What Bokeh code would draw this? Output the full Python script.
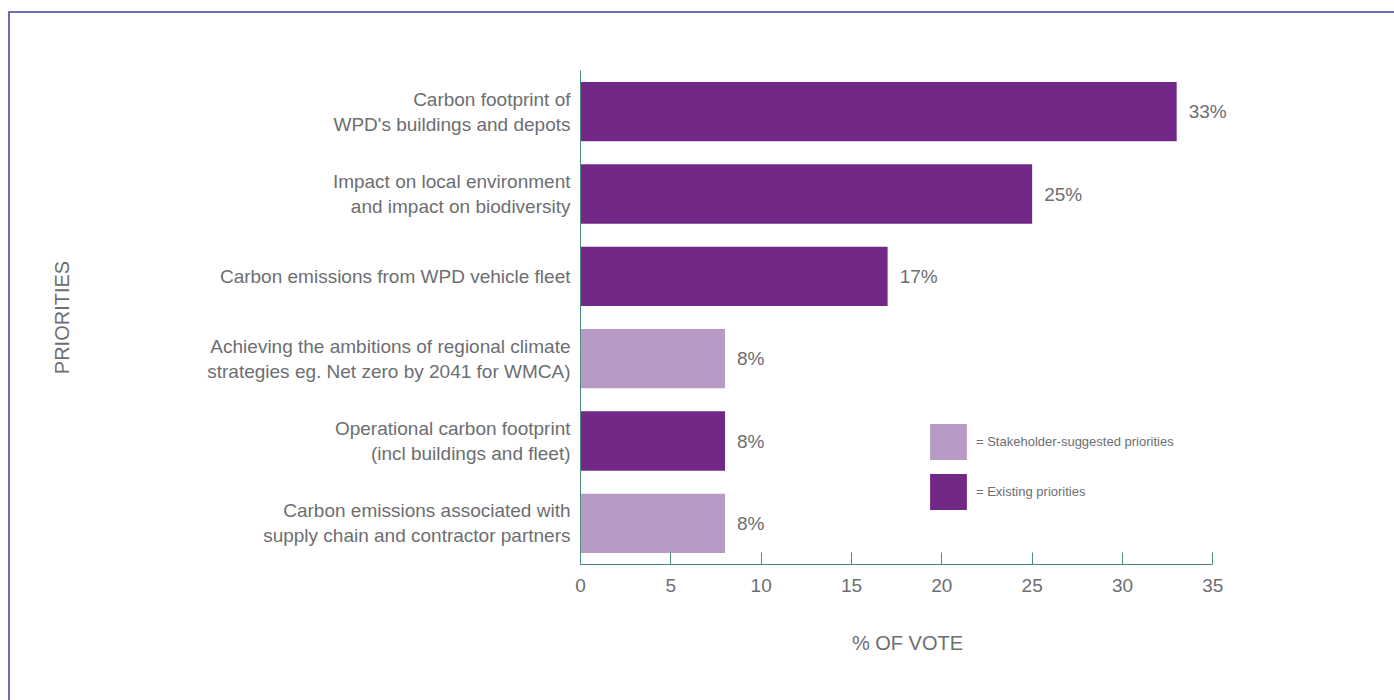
from bokeh.plotting import figure
from bokeh.models import ColumnDataSource, FactorRange, Range1d, LabelSet, Legend, LegendItem, FixedTicker
from bokeh.core.properties import value
from bokeh.embed import file_html
from bokeh.resources import INLINE

categories = [
    "Carbon footprint of\nWPD's buildings and depots",
    "Impact on local environment\nand impact on biodiversity",
    "Carbon emissions from WPD vehicle fleet",
    "Achieving the ambitions of regional climate\nstrategies eg. Net zero by 2041 for WMCA)",
    "Operational carbon footprint\n(incl buildings and fleet)",
    "Carbon emissions associated with\nsupply chain and contractor partners",
]
votes = [33, 25, 17, 8, 8, 8]
kinds = ["Existing", "Existing", "Existing", "Stakeholder", "Existing", "Stakeholder"]
x_ticks = [0, 5, 10, 15, 20, 25, 30, 35]
legend_labels = {"Stakeholder": "= Stakeholder-suggested priorities", "Existing": "= Existing priorities"}
colors = {"Stakeholder": "#b79ac5", "Existing": "#722887"}

FONT = "Liberation Sans"
GRAY = "#6d6e71"
AXIS = "#4d8b80"

p = figure(width=1386, height=689, output_backend="svg", toolbar_location=None,
           y_range=FactorRange(factors=list(reversed(categories))),
           x_range=Range1d(0, 36.2),
           min_border_left=570, min_border_top=57, min_border_bottom=138, min_border_right=162)
p.margin = (11, 0, 0, 8)
p.styles = {"border-top": "2px solid #6e6eb4", "border-left": "2px solid #6e6eb4", "box-sizing": "border-box"}
p.outline_line_color = None
p.xgrid.grid_line_color = None
p.ygrid.grid_line_color = None

renderers = {}
for k in ["Stakeholder", "Existing"]:
    idx = [i for i, kk in enumerate(kinds) if kk == k]
    src = ColumnDataSource(dict(cat=[categories[i] for i in idx], v=[votes[i] for i in idx]))
    renderers[k] = p.hbar(y="cat", right="v", left=0, height=0.72, source=src,
                          fill_color=colors[k], line_color=None)

lab_src = ColumnDataSource(dict(cat=categories, v=votes, t=[f"{v}%" for v in votes]))
p.add_layout(LabelSet(x="v", y="cat", text="t", source=lab_src, x_offset=12, y_offset=0,
                      text_baseline="middle", text_font=value(FONT), text_font_size="19px",
                      text_color=GRAY))

xa = p.xaxis[0]
xa.bounds = (0, 35)
xa.ticker = FixedTicker(ticks=x_ticks)
xa.axis_line_color = AXIS
xa.major_tick_line_color = AXIS
xa.major_tick_in = 12
xa.major_tick_out = 0
xa.minor_tick_line_color = None
xa.major_label_text_font = FONT
xa.major_label_text_font_size = "19px"
xa.major_label_text_color = GRAY
xa.major_label_standoff = 14
xa.axis_label = "% OF VOTE"
xa.axis_label_text_font = FONT
xa.axis_label_text_font_size = "20px"
xa.axis_label_text_font_style = "normal"
xa.axis_label_text_color = GRAY
xa.axis_label_standoff = 37

ya = p.yaxis[0]
ya.axis_line_color = AXIS
ya.major_tick_line_color = None
ya.minor_tick_line_color = None
ya.major_label_text_font = FONT
ya.major_label_text_font_size = "19px"
ya.major_label_text_color = GRAY
ya.major_label_standoff = 4
ya.axis_label = "PRIORITIES"
ya.axis_label_text_font = FONT
ya.axis_label_text_font_size = "20px"
ya.axis_label_text_font_style = "normal"
ya.axis_label_text_color = GRAY
ya.axis_label_standoff = 131

legend = Legend(items=[LegendItem(label=legend_labels[k], renderers=[renderers[k]]) for k in ["Stakeholder", "Existing"]],
                location=(345, 50), orientation="vertical",
                glyph_width=46, glyph_height=45, spacing=5, padding=0, margin=0,
                label_standoff=5, label_text_font=FONT, label_text_font_size="13px",
                label_text_color=GRAY, border_line_color=None, background_fill_alpha=0)
p.add_layout(legend)

open("out.html", "w").write(file_html(p, INLINE))
